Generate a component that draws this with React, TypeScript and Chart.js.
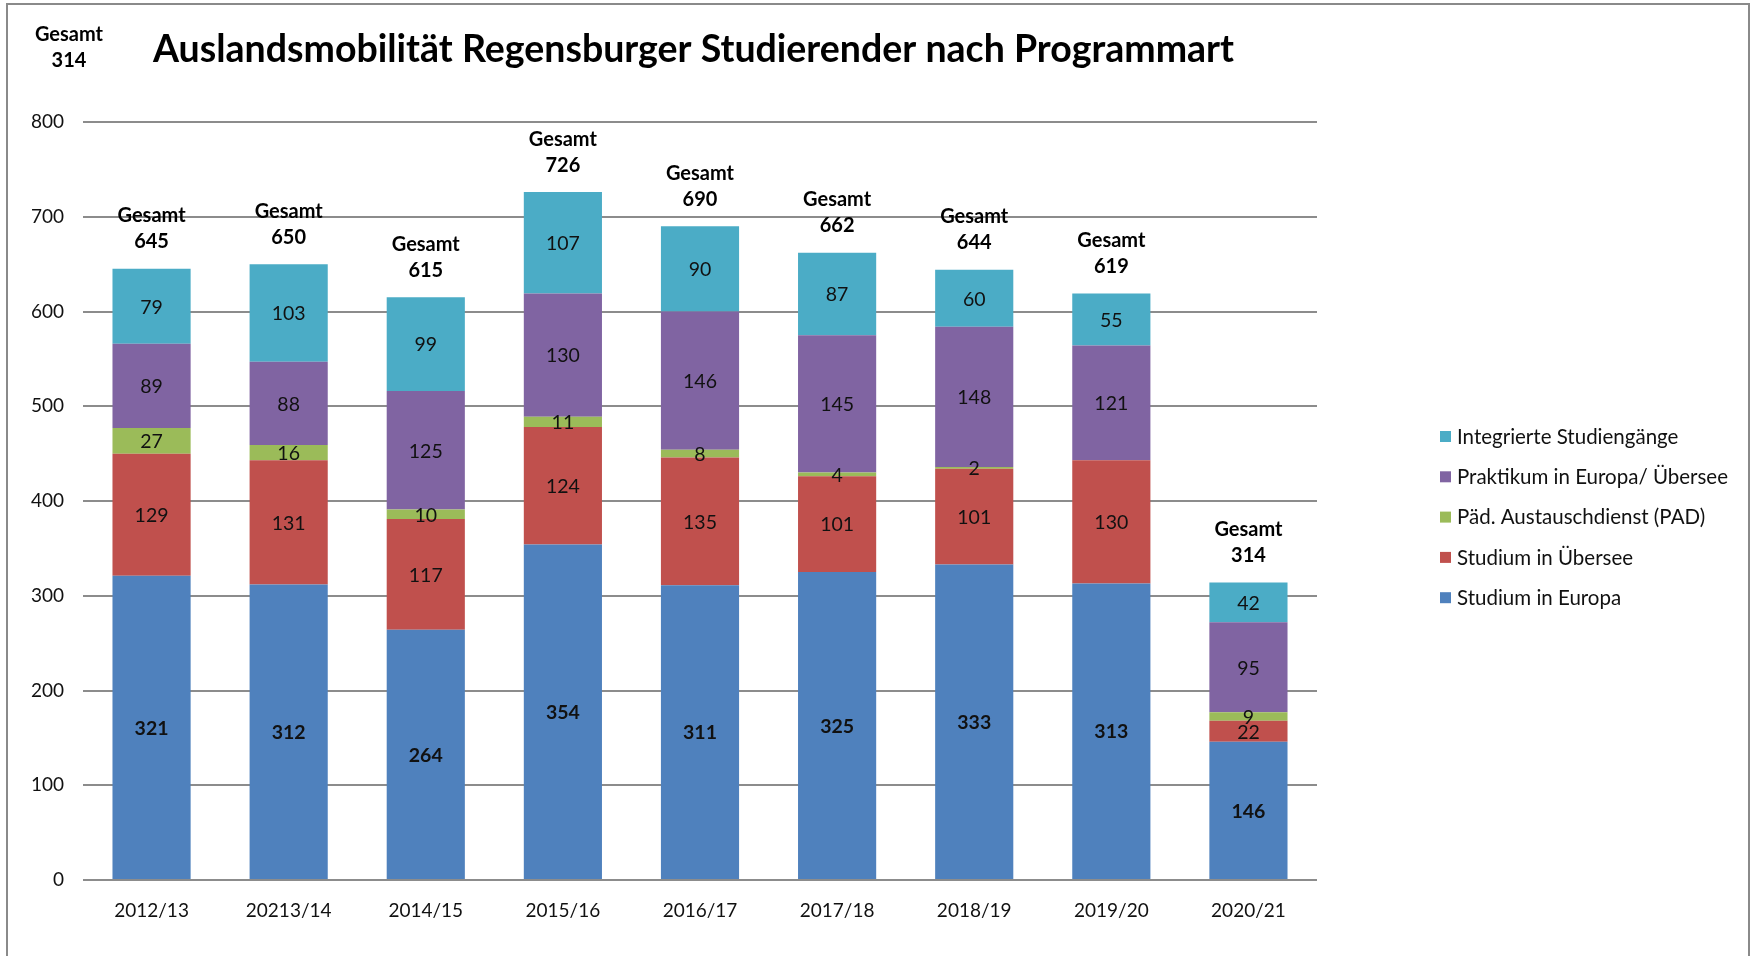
import React, { useEffect, useRef } from "react";
import { Chart, registerables } from "chart.js";

Chart.register(...registerables);

const categories = ["2012/13", "20213/14", "2014/15", "2015/16", "2016/17", "2017/18", "2018/19", "2019/20", "2020/21"];
const studiumEuropa = [321, 312, 264, 354, 311, 325, 333, 313, 146];
const studiumUebersee = [129, 131, 117, 124, 135, 101, 101, 130, 22];
const pad = [27, 16, 10, 11, 8, 4, 2, 0, 9];
const praktikum = [89, 88, 125, 130, 146, 145, 148, 121, 95];
const integrierte = [79, 103, 99, 107, 90, 87, 60, 55, 42];
const yTicks = [0, 100, 200, 300, 400, 500, 600, 700, 800];
const title = "Auslandsmobilität Regensburger Studierender nach Programmart";
const strayTotalLabel = ["Gesamt", "314"];

const FONT = "Lato, 'Open Sans', sans-serif";

const overlayPlugin = {
  id: "overlay",
  afterDatasetsDraw(chart: any) {
    const ctx = chart.ctx;
    const datasets = chart.data.datasets;
    ctx.save();
    datasets.forEach((ds: any, di: number) => {
      const meta = chart.getDatasetMeta(di);
      meta.data.forEach((el: any, i: number) => {
        const v = ds.data[i];
        if (!v) return;
        const y = (el.y + el.base) / 2;
        ctx.font = (di === 0 ? "bold " : "") + "19.5px " + FONT;
        ctx.fillStyle = "#111";
        ctx.textAlign = "center";
        ctx.textBaseline = "middle";
        ctx.fillText(String(v), el.x, y + 1);
      });
    });
    const lastMeta = chart.getDatasetMeta(datasets.length - 1);
    const yScale = chart.scales.y;
    categories.forEach((_, i) => {
      const total = datasets.reduce((s: number, ds: any) => s + (ds.data[i] || 0), 0);
      const x = lastMeta.data[i].x;
      const top = yScale.getPixelForValue(total);
      ctx.font = "bold 20px " + FONT;
      ctx.fillStyle = "#000";
      ctx.textAlign = "center";
      ctx.textBaseline = "middle";
      ctx.fillText("Gesamt", x, top - 53);
      ctx.fillText(String(total), x, top - 27);
    });
    ctx.restore();
  },
  afterDraw(chart: any) {
    const ctx = chart.ctx;
    ctx.save();
    ctx.strokeStyle = "#8a8a8a";
    ctx.lineWidth = 2;
    ctx.strokeRect(7, 4, 1742, 980);
    ctx.font = "bold 37.5px " + FONT;
    ctx.fillStyle = "#000";
    ctx.textAlign = "left";
    ctx.textBaseline = "middle";
    ctx.fillText(title, 153, 50);
    ctx.font = "bold 20px " + FONT;
    ctx.textAlign = "center";
    ctx.fillText(strayTotalLabel[0], 69, 35);
    ctx.fillText(strayTotalLabel[1], 69, 61);
    const ds = chart.data.datasets;
    ctx.font = "20.5px " + FONT;
    ctx.textAlign = "left";
    for (let k = 0; k < ds.length; k++) {
      const d = ds[ds.length - 1 - k];
      const y = 437 + k * 40.3;
      ctx.fillStyle = d.backgroundColor;
      ctx.fillRect(1440, y - 6, 11, 11);
      ctx.fillStyle = "#111";
      ctx.fillText(d.label, 1457, y);
    }
    ctx.restore();
  },
};

export default function App() {
  const ref = useRef<HTMLCanvasElement | null>(null);
  useEffect(() => {
    document.body.style.margin = "0";
    const chart = new Chart(ref.current as HTMLCanvasElement, {
      type: "bar",
      data: {
        labels: categories,
        datasets: [
          { label: "Studium in Europa", data: studiumEuropa, backgroundColor: "#4F81BD" },
          { label: "Studium in Übersee", data: studiumUebersee, backgroundColor: "#C0504D" },
          { label: "Päd. Austauschdienst (PAD)", data: pad, backgroundColor: "#9BBB59" },
          { label: "Praktikum in Europa/ Übersee", data: praktikum, backgroundColor: "#8064A2" },
          { label: "Integrierte Studiengänge", data: integrierte, backgroundColor: "#4BACC6" },
        ],
      },
      options: {
        responsive: false,
        animation: false,
        layout: { padding: { left: 0, right: 437, top: 122, bottom: 0 } },
        plugins: { legend: { display: false }, tooltip: { enabled: false }, title: { display: false } },
        datasets: { bar: { barPercentage: 0.57, categoryPercentage: 1 } },
        scales: {
          x: {
            stacked: true,
            grid: { display: false, drawTicks: false },
            border: { display: false },
            ticks: { font: { family: FONT, size: 19 }, color: "#111", padding: 19, maxRotation: 0 },
            afterFit: (s: any) => { s.height = 76; },
          },
          y: {
            stacked: true,
            min: 0,
            max: 800,
            afterBuildTicks: (s: any) => { s.ticks = yTicks.map((v) => ({ value: v })); },
            grid: { color: "#8c8c8c", lineWidth: 2, drawTicks: false },
            border: { display: false },
            ticks: { font: { family: FONT, size: 19 }, color: "#111", padding: 19 },
            afterFit: (s: any) => { s.width = 83; },
          },
        },
      },
      plugins: [overlayPlugin],
    });
    return () => chart.destroy();
  }, []);
  return <canvas ref={ref} width={1754} height={956} style={{ display: "block" }} />;
}
